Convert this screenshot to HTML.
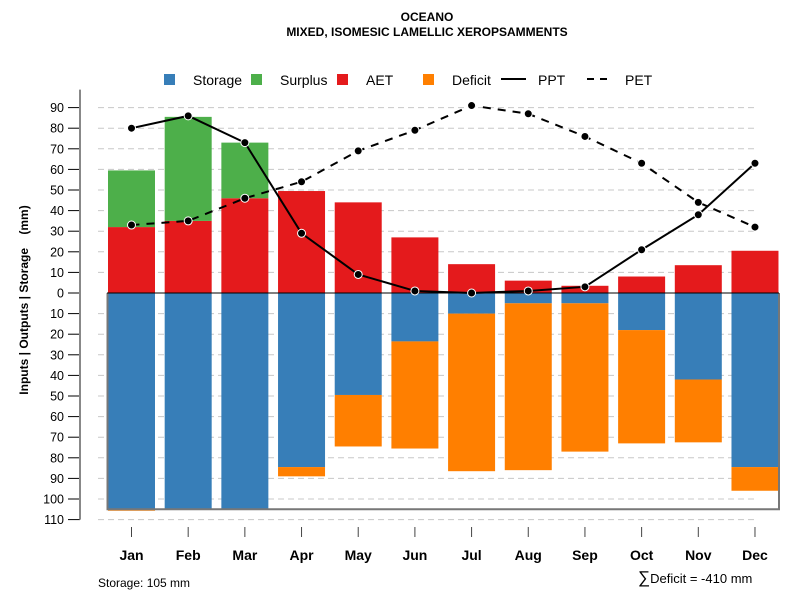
<!DOCTYPE html>
<html><head><meta charset="utf-8"><style>
body{margin:0;background:#fff}
svg{font-family:"Liberation Sans",Arial,sans-serif}
</style></head><body>
<svg id="chart" width="800" height="600" viewBox="0 0 800 600">
<text x="427" y="21" text-anchor="middle" font-size="12" font-weight="bold">OCEANO</text>
<text x="427" y="36" text-anchor="middle" font-size="12" font-weight="bold">MIXED, ISOMESIC LAMELLIC XEROPSAMMENTS</text>
<g font-size="14">
 <rect x="164" y="74" width="11" height="11" fill="#377eb8"/>
 <text x="193" y="85">Storage</text>
 <rect x="251" y="74" width="11" height="11" fill="#4daf4a"/>
 <text x="280" y="85">Surplus</text>
 <rect x="337" y="74" width="11" height="11" fill="#e41a1c"/>
 <text x="366" y="85">AET</text>
 <rect x="423" y="74" width="11" height="11" fill="#ff7f00"/>
 <text x="452" y="85">Deficit</text>
 <line x1="501" y1="79" x2="526" y2="79" stroke="#000" stroke-width="2"/>
 <text x="538" y="85">PPT</text>
 <line x1="587" y1="79" x2="613" y2="79" stroke="#000" stroke-width="2" stroke-dasharray="7,6"/>
 <text x="625" y="85">PET</text>
</g>
<g id="grid"></g><g id="bars"></g><g id="frame"></g><g id="lines"></g><g id="axes"></g>
<text transform="translate(28,300) rotate(-90)" text-anchor="middle" font-size="12" font-weight="bold" style="white-space:pre">Inputs | Outputs | Storage    (mm)</text>
<text x="98" y="587" font-size="12">Storage: 105 mm</text>
<text x="638" y="583" font-size="13"><tspan font-size="17">∑</tspan>Deficit = -410 mm</text>
</svg>
<script>
const months=["Jan","Feb","Mar","Apr","May","Jun","Jul","Aug","Sep","Oct","Nov","Dec"];
const aet=[32,35,46,49.5,44,27,14,6,3.5,8,13.5,20.5];
const surplus=[27.5,50.5,27,0,0,0,0,0,0,0,0,0];
const storage=[105,105,105,84.5,49.5,23.5,10,5,5,18,42,84.5];
const deficit=[0.7,0,0,4.5,25,52,76.5,81,72,55,30.5,11.5];
const ppt=[80,86,73,29,9,1,0,1,3,21,38,63];
const pet=[33,35,46,54,69,79,91,87,76,63,44,32];
const yTicks=[90,80,70,60,50,40,30,20,10,0,10,20,30,40,50,60,70,80,90,100,110];
const yTickSigns=[1,1,1,1,1,1,1,1,1,0,-1,-1,-1,-1,-1,-1,-1,-1,-1,-1,-1];
const NS="http://www.w3.org/2000/svg";
const y0=293,k=2.06;
function y(v){return y0-v*k;}
function x(i){return 131.5+i*56.68;}
const bw=47;
function mk(p,t,a){const e=document.createElementNS(NS,t);for(const n in a)e.setAttribute(n,a[n]);document.getElementById(p).appendChild(e);return e;}
yTicks.forEach((t,i)=>{const v=t*yTickSigns[i];const yy=y(v);
 if(v!==0){const g=mk('grid','line',{x1:98,x2:756,y1:yy,y2:yy,stroke:'#c8c8c8','stroke-dasharray':'6,4'});
 
 }
 const tk=mk('axes','line',{x1:68,x2:80,y1:yy,y2:yy,stroke:'#000'});
 
 
 const tx=mk('axes','text',{x:64,y:yy+4.5,'text-anchor':'end','font-size':12.5});tx.textContent=t;
 
 
});
const ax=mk('axes','line',{x1:80,x2:80,y1:y(90)-18,y2:y(-110),stroke:'#888','stroke-width':2});


months.forEach((m,i)=>{const cx=x(i),l=cx-bw/2;
 function bar(a,b,c,n){const r=mk('bars','rect',{x:l,y:Math.min(y(a),y(b)),width:bw,height:Math.abs(y(a)-y(b)),fill:c});
  
  }
 bar(0,aet[i],'#e41a1c','bar-aet-'+m.toLowerCase());
 if(surplus[i]>0)bar(aet[i],aet[i]+surplus[i],'#4daf4a','bar-surplus-'+m.toLowerCase());
 bar(0,-storage[i],'#377eb8','bar-storage-'+m.toLowerCase());
 if(deficit[i]>0)bar(-storage[i],-storage[i]-deficit[i],'#ff7f00','bar-deficit-'+m.toLowerCase());
 const t=mk('axes','line',{x1:cx,x2:cx,y1:527,y2:537,stroke:'#444'});
 
 
 const tx=mk('axes','text',{x:cx,y:560,'text-anchor':'middle','font-size':14,'font-weight':'bold'});tx.textContent=m;
 
 
});
const fr=mk('frame','path',{d:`M107.5 ${y0} V${y(-105)} H779 V${y0}`,fill:'none',stroke:'#777','stroke-width':2});


const zl=mk('frame','line',{x1:107,x2:779,y1:y0,y2:y0,stroke:'#000'});


function series(arr,dash,n){const p=mk('lines','polyline',{points:arr.map((v,i)=>x(i)+','+y(v)).join(' '),fill:'none',stroke:'#000','stroke-width':2,'stroke-dasharray':dash});
 
 
 arr.forEach((v,i)=>{const c=mk('lines','circle',{cx:x(i),cy:y(v),r:4,fill:'#000',stroke:'#fff','stroke-width':1});
  
  });}
series(ppt,'none','ppt');
series(pet,'8,7','pet');
</script>
</body></html>
